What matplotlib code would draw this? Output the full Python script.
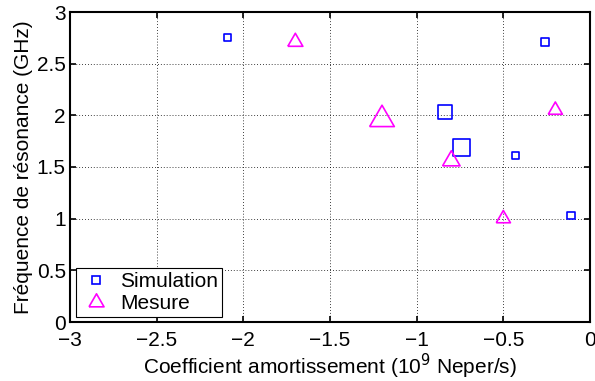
import matplotlib
matplotlib.use('Agg')
import matplotlib.pyplot as plt
from matplotlib.lines import Line2D

plt.rcParams['font.family'] = ['Liberation Sans', 'DejaVu Sans']

# Simulation (carres bleus)
sim_x = [-2.09, -0.26, -0.835, -0.74, -0.43, -0.11]
sim_y = [2.75, 2.71, 2.03, 1.69, 1.61, 1.03]
sim_size = [5.2, 5.2, 10.2, 12.2, 5.2, 5.2]

# Mesure (triangles magenta)
mes_x = [-1.70, -1.20, -0.80, -0.50, -0.20]
mes_y = [2.71, 1.96, 1.56, 1.00, 2.05]
mes_size = [12.5, 20.5, 14.5, 11.8, 11.8]

xticks = [-3, -2.5, -2, -1.5, -1, -0.5, 0]
yticks = [0, 0.5, 1, 1.5, 2, 2.5, 3]

# triangle equilateral centre sur son centroide
tri = [(-1, -0.577), (1, -0.577), (0, 1.155), (-1, -0.577)]

fs = 15

fig = plt.figure(figsize=(5.95, 3.81), dpi=100)
ax = fig.add_axes([70/595, 1-322/381, 520/595, 310/381])

ax.scatter(sim_x, sim_y, s=[v**2 for v in sim_size], marker='s',
           facecolors='none', edgecolors='blue', linewidths=1.2, zorder=3)
ax.scatter(mes_x, mes_y, s=[v**2 for v in mes_size], marker=tri,
           facecolors='none', edgecolors='magenta', linewidths=1.2, zorder=3)

ax.set_xlim(-3, 0)
ax.set_ylim(0, 3)
ax.set_xticks(xticks)
ax.set_yticks(yticks)
ax.set_xticklabels(['\u22123', '\u22122.5', '\u22122', '\u22121.5', '\u22121', '\u22120.5', '0'])
ax.set_yticklabels(['0', '0.5', '1', '1.5', '2', '2.5', '3'])

ax.grid(True, color='black', linestyle=(0, (1, 2.5)), linewidth=0.6)
ax.tick_params(direction='in', top=True, right=True, length=4, width=1.2,
               labelsize=fs)
ax.tick_params(axis='x', pad=6.5)
ax.tick_params(axis='y', pad=3)
for sp in ax.spines.values():
    sp.set_linewidth(1.5)

ax.set_xlabel('Coefficient amortissement (10$^9$ Neper/s)', fontsize=fs, labelpad=1)
ax.set_ylabel('Fréquence de résonance (GHz)', fontsize=fs, labelpad=3)

h1 = Line2D([], [], linestyle='none', marker='s', markersize=5.2,
            markerfacecolor='none', markeredgecolor='blue', markeredgewidth=1.2)
h2 = Line2D([], [], linestyle='none', marker=tri, markersize=12.5,
            markerfacecolor='none', markeredgecolor='magenta', markeredgewidth=1.2)
leg = ax.legend([h1, h2], ['Simulation', 'Mesure'], loc='lower left',
                bbox_to_anchor=(6/520, 5/310), borderaxespad=0, fontsize=fs,
                fancybox=False, framealpha=1, edgecolor='black',
                handlelength=1.5, handletextpad=0.4, labelspacing=0.12,
                borderpad=0.2)
leg.get_frame().set_linewidth(0.8)

fig.savefig('out.png', dpi=100)
